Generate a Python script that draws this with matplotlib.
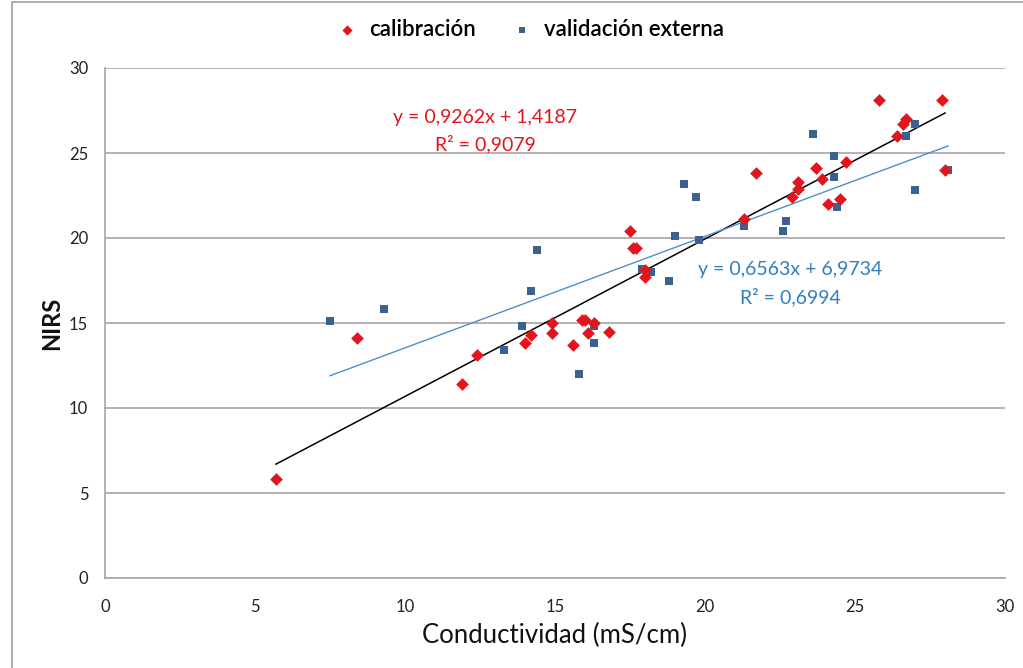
import numpy as np
import matplotlib
matplotlib.use("Agg")
import matplotlib.pyplot as plt
from matplotlib.patches import Rectangle

plt.rcParams['font.family'] = ['Lato', 'DejaVu Sans']

# calibracion (red diamonds)
cal_x = [5.7, 8.4, 11.9, 12.4, 14.0, 14.2, 14.9, 14.9, 15.6, 15.9, 16.0, 16.3, 16.1, 16.8,
         17.5, 17.6, 17.7, 18.0, 18.0, 21.3, 21.7, 22.9, 23.1, 23.1, 23.7, 23.9, 24.1,
         24.5, 24.7, 25.8, 26.4, 26.6, 26.7, 27.9, 28.0]
cal_y = [5.8, 14.1, 11.4, 13.1, 13.8, 14.3, 15.0, 14.4, 13.7, 15.2, 15.2, 15.0, 14.4, 14.5,
         20.4, 19.4, 19.4, 18.1, 17.7, 21.1, 23.8, 22.4, 23.3, 22.9, 24.1, 23.5, 22.0,
         22.3, 24.5, 28.1, 26.0, 26.7, 27.0, 28.1, 24.0]

# validacion externa (blue squares)
val_x = [7.5, 9.3, 13.3, 13.9, 14.2, 14.4, 15.8, 16.3, 16.3, 17.9, 18.2, 18.8, 19.0, 19.3,
         19.7, 19.8, 21.3, 22.6, 22.7, 23.6, 24.3, 24.3, 24.4, 26.7, 27.0, 27.0, 28.1]
val_y = [15.1, 15.8, 13.4, 14.8, 16.9, 19.3, 12.0, 14.8, 13.8, 18.2, 18.0, 17.5, 20.1, 23.2,
         22.4, 19.9, 20.7, 20.4, 21.0, 26.1, 24.8, 23.6, 21.8, 26.0, 26.7, 22.8, 24.0]

# trend lines (from the equations shown on the chart)
cal_fit = (0.9262, 1.4187, 0.9079)
val_fit = (0.6563, 6.9734, 0.6994)

red = '#e3141c'
blue = '#3a6190'
blue_line = '#4f8fc8'
grid_gray = '#a6a6a6'

fig = plt.figure(figsize=(10.23, 6.68), dpi=100)
ax = fig.add_axes([105/1023, 1 - 578/668, 900/1023, 510/668])

# outer chart border (cut off at right and bottom)
fig.patches.append(Rectangle((12/1023, -0.1), 1.2, 1 - 2/668 + 0.1, transform=fig.transFigure,
                             fill=False, edgecolor='#a0a0a0', linewidth=1.2))

xs = np.array([min(cal_x), max(cal_x)])
ax.plot(xs, cal_fit[0] * xs + cal_fit[1], color='black', linewidth=1.1, zorder=3)
xs = np.array([min(val_x), max(val_x)])
ax.plot(xs, val_fit[0] * xs + val_fit[1], color=blue_line, linewidth=1.0, zorder=3)

ax.scatter(val_x, val_y, marker='s', s=38, color=blue, linewidths=0, zorder=4,
           label='validación externa')
ax.scatter(cal_x, cal_y, marker='D', s=42, color=red, linewidths=0, zorder=4,
           label='calibración')

ax.set_xlim(0, 30)
ax.set_ylim(0, 30)
ax.set_xticks(range(0, 31, 5))
ax.set_yticks(range(0, 31, 5))
ax.yaxis.grid(True, color=grid_gray, linewidth=1.2)
ax.set_axisbelow(True)
for s in ['top', 'right']:
    ax.spines[s].set_visible(False)
for s in ['left', 'bottom']:
    ax.spines[s].set_color(grid_gray)
    ax.spines[s].set_linewidth(1.2)
ax.tick_params(axis='both', length=0, labelsize=12, colors='#222222')
ax.tick_params(axis='x', pad=15)
ax.tick_params(axis='y', pad=12)

ax.set_xlabel('Conductividad (mS/cm)', fontsize=18.5, labelpad=6, color='#111111')
ax.set_ylabel('NIRS', fontsize=17, fontweight='bold', labelpad=4, color='#111111')

ax.text(12.67, 27.06, 'y = 0,9262x + 1,4187', color=red, fontsize=14, ha='center', va='center')
ax.text(12.67, 25.53, 'R² = %s' % str(cal_fit[2]).replace('.', ','), color=red, fontsize=14,
        ha='center', va='center')
ax.text(22.83, 18.12, 'y = 0,6563x + 6,9734', color='#2f7fbf', fontsize=14, ha='center', va='center')
ax.text(22.83, 16.53, 'R² = %s' % str(val_fit[2]).replace('.', ','), color='#2f7fbf', fontsize=14,
        ha='center', va='center')

h, l = ax.get_legend_handles_labels()
fig.legend(h[::-1], l[::-1], loc='center', bbox_to_anchor=(530/1023, 1 - 29/668), ncol=2,
           frameon=False, prop={'size': 16, 'weight': 'semibold'}, handletextpad=0.5,
           columnspacing=1.6, markerscale=0.8, handlelength=1.0)

fig.savefig('out.png', dpi=100, facecolor='white')
